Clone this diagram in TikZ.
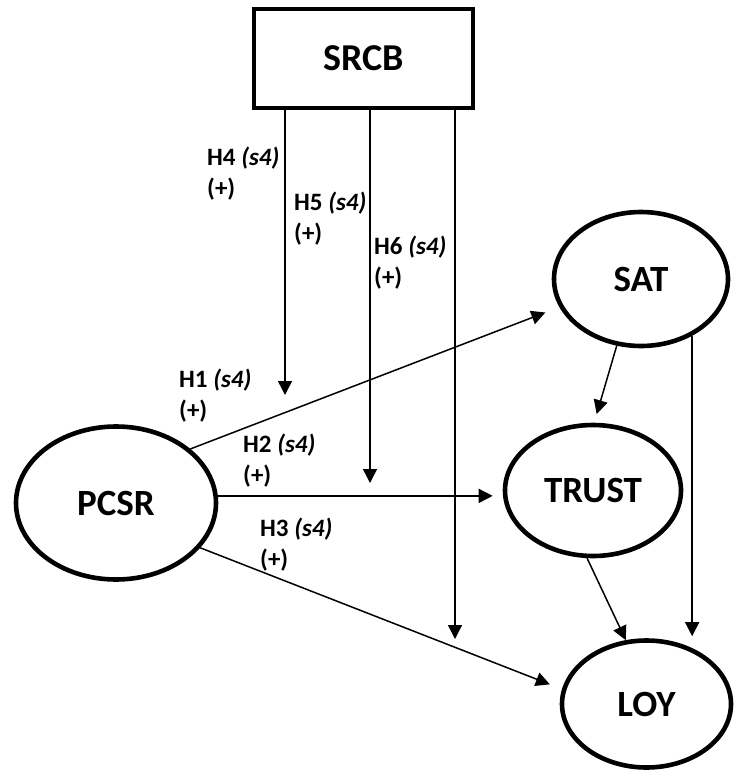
\documentclass[tikz,border=0pt]{standalone}
\usepackage{fontspec}
\setmainfont{Carlito}
\usetikzlibrary{arrows.meta,positioning,shapes.geometric,calc}

\begin{document}
\begin{tikzpicture}[
  x=1pt, y=-1pt,
  font=\bfseries,
  var/.style={draw, ellipse, line width=4.6pt, inner sep=0pt, fill=white, font=\fontsize{37}{42}\selectfont\bfseries},
  mod/.style={draw, rectangle, line width=4.6pt, inner sep=0pt, minimum width=219pt, minimum height=99pt, font=\fontsize{38}{42}\selectfont\bfseries},
  hyp/.style={anchor=west, align=left, inner sep=0pt, font=\fontsize{25}{31}\selectfont\bfseries},
  arr/.style={-{Triangle[length=14pt,width=14pt]}, line width=1.5pt}
]
\useasboundingbox (0,0) rectangle (734,771);
% ---------------- moderator and constructs
\node[mod] (srcb) at (363.5,58.5) {SRCB};
\node[var, minimum width=200pt, minimum height=153pt] (pcsr) at (116,503) {PCSR};
\node[var, minimum width=174pt, minimum height=134pt] (sat) at (641,279) {SAT};
\node[var, minimum width=176pt, minimum height=131pt] (trust) at (593,490.5) {TRUST};
\node[var, minimum width=169pt, minimum height=127pt] (loy) at (646.5,704) {LOY};
% ---------------- hypothesis labels
\node[hyp] (h4) at (207,174) {H4 \textit{(s4)}\\(+)};
\node[hyp] (h5) at (294,218.5) {H5 \textit{(s4)}\\(+)};
\node[hyp] (h6) at (374,262.5) {H6 \textit{(s4)}\\(+)};
\node[hyp] (h1) at (179,395.5) {H1 \textit{(s4)}\\(+)};
\node[hyp] (h2) at (243,460.5) {H2 \textit{(s4)}\\(+)};
\node[hyp] (h3) at (260,544.5) {H3 \textit{(s4)}\\(+)};
% ---------------- moderating paths
\coordinate (m1) at (285,395);
\coordinate (m2) at (370,483);
\coordinate (m3) at (455,639);
\draw[arr] (srcb.south -| m1) -- (m1);
\draw[arr] (srcb.south -| m2) -- (m2);
\draw[arr] (srcb.south -| m3) -- (m3);
% ---------------- direct paths
\draw[arr, shorten >=15pt] (pcsr.36) -- (sat.199);
\draw[arr, shorten >=10pt] (pcsr.4) -- (pcsr.4 -| trust.west);
\draw[arr, shorten >=13pt] (pcsr.-28) -- (loy.170);
\draw[arr, shorten >=9pt] (sat.250) -- (trust.89);
\draw[arr] (trust.265) -- (loy.108);
\draw[arr, shorten >=2pt] (sat.-48) -- (sat.-48 |- loy.north);
\end{tikzpicture}
\end{document}
